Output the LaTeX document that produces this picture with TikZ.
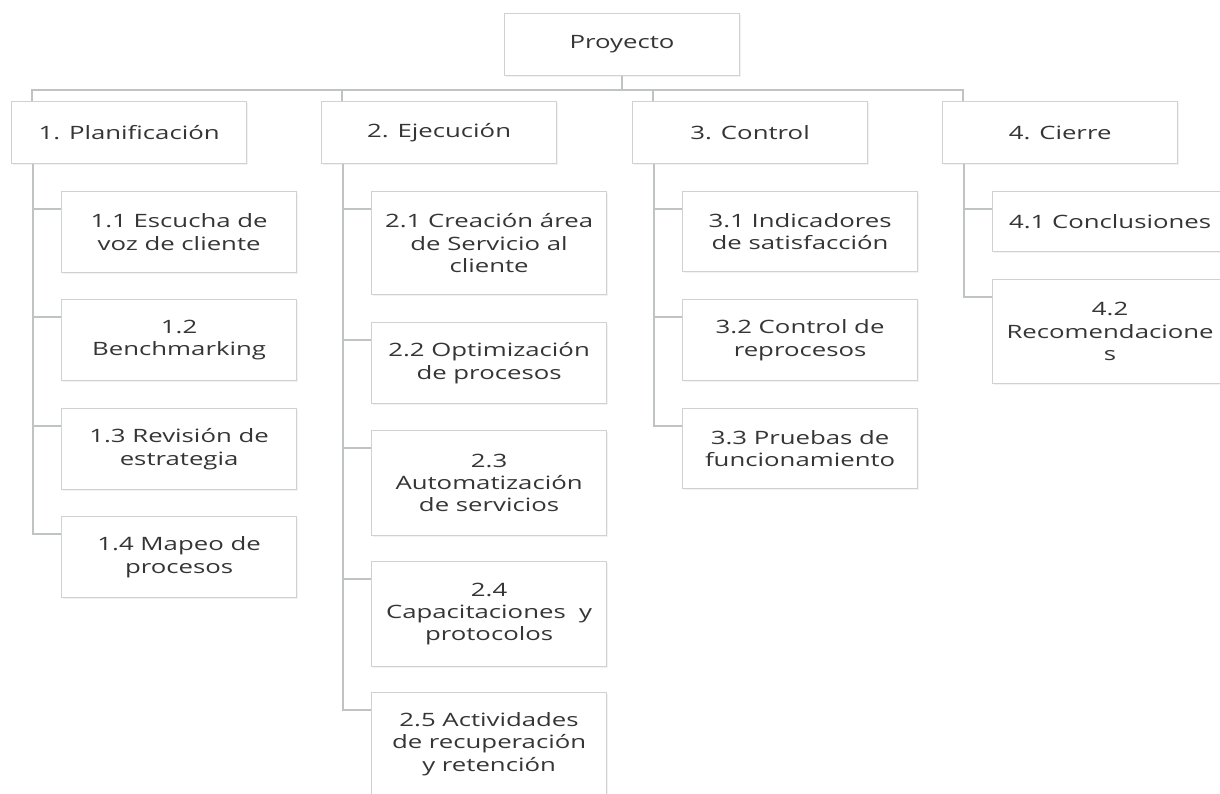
\documentclass[tikz,border=0pt]{standalone}
\usepackage{fontspec}
\setmainfont{Open Sans}[FakeStretch=1.4]
\usetikzlibrary{shadows}
\definecolor{boxline}{HTML}{D0D2D2}
\definecolor{wirecol}{HTML}{BFC3C3}
\definecolor{ink}{HTML}{353535}
\begin{document}
\begin{tikzpicture}[x=1pt,y=-1pt,
  wbs/.style={draw=boxline, line width=1.2pt, fill=white, anchor=north west,
    minimum width=235pt, inner sep=0pt, align=center, text=ink,
    font=\fontsize{18.4}{22.3}\selectfont,
    drop shadow={opacity=0.10, shadow xshift=1.5pt, shadow yshift=-1.5pt}},
  wire/.style={draw=wirecol, line width=2.6pt}]
\clip (0,0) rectangle (1220,794);
\fill[white] (0,0) rectangle (1220,794);

% root
\node[wbs, minimum height=62pt] (proj) at (504,13) {Proyecto};

% phases
\node[wbs, minimum height=62pt] (p1) at (11,101)  {1. Planificación};
\node[wbs, minimum height=62pt] (p2) at (321,101) {2. Ejecución};
\node[wbs, minimum height=62pt] (p3) at (632,101) {3. Control};
\node[wbs, minimum height=62pt] (p4) at (942,101) {4. Cierre};

% 1. Planificación
\node[wbs, minimum height=81pt] (c11) at (61,191) {1.1 Escucha de\\voz de cliente};
\node[wbs, minimum height=81pt] (c12) at (61,299) {1.2\\Benchmarking};
\node[wbs, minimum height=81pt] (c13) at (61,408) {1.3 Revisión de\\estrategia};
\node[wbs, minimum height=81pt] (c14) at (61,516) {1.4 Mapeo de\\procesos};

% 2. Ejecución
\node[wbs, minimum height=103pt] (c21) at (371,191) {2.1 Creación área\\de Servicio al\\cliente};
\node[wbs, minimum height=81pt]  (c22) at (371,322) {2.2 Optimización\\de procesos};
\node[wbs, minimum height=105pt] (c23) at (371,430) {2.3\\Automatización\\de servicios};
\node[wbs, minimum height=105pt] (c24) at (371,561) {2.4\\Capacitaciones~ y\\protocolos};
\node[wbs, minimum height=103pt] (c25) at (371,692) {2.5 Actividades\\de recuperación\\y retención};

% 3. Control
\node[wbs, minimum height=80pt] (c31) at (682,191) {3.1 Indicadores\\de satisfacción};
\node[wbs, minimum height=81pt] (c32) at (682,299) {3.2 Control de\\reprocesos};
\node[wbs, minimum height=80pt] (c33) at (682,408) {3.3 Pruebas de\\funcionamiento};

% 4. Cierre
\node[wbs, minimum height=60pt]  (c41) at (992,191) {4.1 Conclusiones};
\node[wbs, minimum height=104pt] (c42) at (992,279) {4.2\\Recomendacione\\s};

% root to phases
\foreach \p in {p1,p2,p3,p4}
  \draw[wire] (proj.south) -- ++(0,14) -| ([xshift=21pt]\p.north west);

% phases to tasks
\foreach \p/\c in {p1/c11,p1/c12,p1/c13,p1/c14,
                   p2/c21,p2/c22,p2/c23,p2/c24,p2/c25,
                   p3/c31,p3/c32,p3/c33,
                   p4/c41,p4/c42}
  \draw[wire] ([xshift=22pt]\p.south west) |- ([yshift=-18pt]\c.north west);
\end{tikzpicture}
\end{document}
